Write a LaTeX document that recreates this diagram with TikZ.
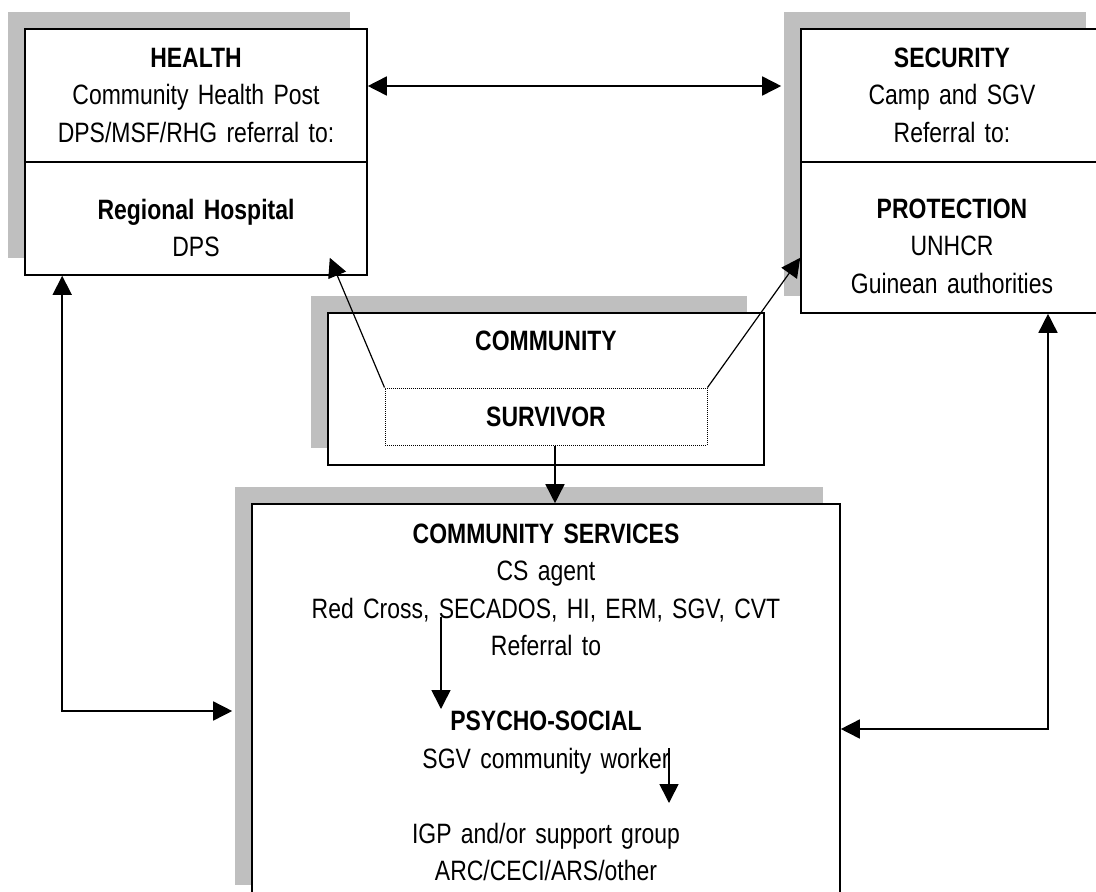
\documentclass[tikz,border=0pt]{standalone}
\usepackage{fontspec}
\setmainfont{Liberation Sans}[FakeStretch=0.82]
\usetikzlibrary{arrows.meta,shadows}

\tikzset{
  panel/.style={draw, line width=1.6pt, fill=white, inner sep=0pt,
    drop shadow={shadow xshift=-17pt, shadow yshift=17pt, fill=black!25, opacity=1}},
  txt/.style={anchor=base, align=center, text width=#1, inner sep=0pt,
    font=\fontsize{28}{37.5}\selectfont},
  link/.style={line width=1.6pt, >={Triangle[length=19pt, width=19pt]}},
}

\begin{document}
\begin{tikzpicture}[x=1pt, y=-1pt]
\useasboundingbox (0,0) rectangle (1096,892);

% Health (top left)
\node[panel, minimum width=342pt, minimum height=246pt] (health) at (196,152) {};
\draw[line width=1.6pt] (25,162) -- (367,162);
\node[txt=330pt] (health-top) at (196,67) {\textbf{HEALTH}\\Community Health Post\\DPS/MSF/RHG referral to:};
\node[txt=330pt] (health-bot) at (196,219) {\textbf{Regional Hospital}\\DPS};

% Security (top right)
\node[panel, minimum width=302pt, minimum height=284pt] (security) at (952,171) {};
\draw[line width=1.6pt] (801,162) -- (1103,162);
\node[txt=290pt] (security-top) at (952,67) {\textbf{SECURITY}\\Camp and SGV\\Referral to:};
\node[txt=290pt] (security-bot) at (952,218) {\textbf{PROTECTION}\\UNHCR\\Guinean authorities};

% Community with the survivor
\node[panel, minimum width=436pt, minimum height=152pt] (community) at (546,389) {};
\node[txt=400pt] (community-title) at (546,350) {\textbf{COMMUNITY}};
\node[draw, densely dotted, line width=1pt, minimum width=322pt, minimum height=57pt,
  inner sep=0pt, font=\fontsize{28}{37.5}\selectfont\bfseries] (survivor) at (546,416.5) {SURVIVOR};

% Community services (bottom)
\node[panel, minimum width=588pt, minimum height=398pt] (cs) at (546,703) {};
\node[txt=560pt] (cs-text) at (546,543) {\textbf{COMMUNITY SERVICES}\\CS agent\\Red Cross, SECADOS, HI, ERM, SGV, CVT\\Referral to\\[37.5pt]\textbf{PSYCHO-SOCIAL}\\SGV community worker\\[37.5pt]IGP and/or support group\\ARC/CECI/ARS/other};

% Referrals inside community services
\coordinate (ref-a) at (441,617);
\coordinate (ref-b) at (441,709);
\coordinate (ref-c) at (669,748);
\coordinate (ref-d) at (669,803);
\draw[link, ->] (ref-a) -- (ref-b);
\draw[link, ->] (ref-c) -- (ref-d);

% Links between the boxes
\draw[link, <->] ([yshift=66pt]health.east) -- ([xshift=-19pt, yshift=85pt]security.west);
\draw[link, ->, line width=1.2pt] (survivor.north west) -- ([xshift=-38pt, yshift=18pt]health.south east);
\draw[link, ->, line width=1.2pt] (survivor.north east) -- ([yshift=56pt]security.south west);
\draw[link, ->] ([xshift=9pt]survivor.south) -- ([xshift=9pt]cs.north);
\draw[link, <->] ([xshift=38pt]health.south west) |- ([xshift=-19pt, yshift=-8pt]cs.west);
\draw[link, <->] ([xshift=96pt]security.south) |- ([yshift=-26pt]cs.east);

\end{tikzpicture}
\end{document}
